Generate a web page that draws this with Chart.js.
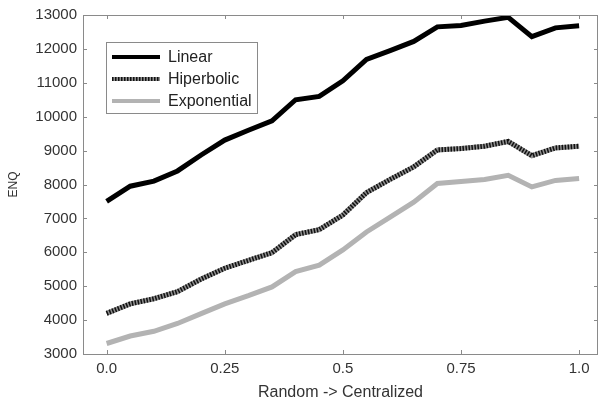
<!DOCTYPE html>
<html>
<head>
<meta charset="utf-8">
<script src="https://cdn.jsdelivr.net/npm/chart.js@4.4.0/dist/chart.umd.min.js"></script>
<style>
  html, body { margin: 0; padding: 0; background: #fff; }
</style>
</head>
<body>
<canvas id="enq" width="600" height="404"></canvas>
<script>
const xVals = [0, 0.05, 0.1, 0.15, 0.2, 0.25, 0.3, 0.35, 0.4, 0.45, 0.5,
               0.55, 0.6, 0.65, 0.7, 0.75, 0.8, 0.85, 0.9, 0.95, 1.0]
const linear = [7500, 7950, 8100, 8400, 8870, 9310, 9600, 9880, 10500, 10600, 11060,
                11690, 11950, 12220, 12650, 12690, 12820, 12930, 12360, 12620, 12680]
const hiperbolic = [4200, 4480, 4630, 4840, 5210, 5530, 5760, 5990, 6520, 6670, 7100,
                    7760, 8150, 8520, 9020, 9060, 9130, 9270, 8850, 9080, 9130]
const exponential = [3310, 3530, 3670, 3900, 4190, 4480, 4720, 4980, 5430, 5620, 6070,
                     6600, 7040, 7480, 8030, 8090, 8150, 8270, 7930, 8120, 8180]
const seriesNames = ['Linear', 'Hiperbolic', 'Exponential']
const xTicks = [0, 0.25, 0.5, 0.75, 1]
const xTickLabels = ['0.0', '0.25', '0.5', '0.75', '1.0']
const yTicks = [3000, 4000, 5000, 6000, 7000, 8000, 9000, 10000, 11000, 12000, 13000]

const FONT = 'Liberation Sans, Arial, sans-serif'
const AXIS = '#8a8a8a'

function pts(arr) {
  return xVals.map((x, i) => ({x: x, y: arr[i]}))
}

// box round the plot with inward ticks on every side
const frame = {
  id: 'frame',
  afterDraw(chart) {
    const ctx = chart.ctx
    const a = chart.chartArea
    const xs = chart.scales.x, ys = chart.scales.y
    ctx.save()
    ctx.strokeStyle = AXIS
    ctx.lineWidth = 1
    ctx.strokeRect(a.left + 0.5, a.top + 0.5, a.right - a.left - 1, a.bottom - a.top)
    ctx.beginPath()
    for (let v of yTicks) {
      let y = Math.round(ys.getPixelForValue(v)) + 0.5
      ctx.moveTo(a.left, y); ctx.lineTo(a.left + 4, y)
      ctx.moveTo(a.right - 4, y); ctx.lineTo(a.right, y)
    }
    for (let v of xTicks) {
      let x = Math.round(xs.getPixelForValue(v)) + 0.5
      ctx.moveTo(x, a.bottom); ctx.lineTo(x, a.bottom - 4)
      ctx.moveTo(x, a.top); ctx.lineTo(x, a.top + 4)
    }
    ctx.stroke()
    ctx.restore()
  }
}

// legend box inside the plot, top left
const boxLegend = {
  id: 'boxLegend',
  afterDraw(chart) {
    const ctx = chart.ctx
    const a = chart.chartArea
    const bx = a.left + 23, by = a.top + 27, bw = 151, bh = 71
    ctx.save()
    ctx.fillStyle = '#fff'
    ctx.fillRect(bx, by, bw, bh)
    ctx.strokeStyle = AXIS
    ctx.lineWidth = 1
    ctx.strokeRect(bx + 0.5, by + 0.5, bw, bh)
    ctx.font = '16px ' + FONT
    ctx.textBaseline = 'middle'
    for (let i = 0; i < seriesNames.length; i++) {
      let y = by + 15 + i * 22
      ctx.lineWidth = 4
      if (i == 1) {
        ctx.strokeStyle = '#8f8f8f'
        ctx.beginPath(); ctx.moveTo(bx + 6, y); ctx.lineTo(bx + 54, y); ctx.stroke()
        ctx.setLineDash([1.5, 1.5])
        ctx.strokeStyle = '#111'
      } else {
        ctx.strokeStyle = i == 0 ? '#000' : '#b3b3b3'
      }
      ctx.beginPath(); ctx.moveTo(bx + 6, y); ctx.lineTo(bx + 54, y); ctx.stroke()
      ctx.setLineDash([])
      ctx.fillStyle = '#222'
      ctx.fillText(seriesNames[i], bx + 62, y + 1)
    }
    ctx.restore()
  }
}

new Chart(document.getElementById('enq'), {
  type: 'line',
  data: {
    datasets: [
      {label: seriesNames[0], data: pts(linear), borderColor: '#000', borderWidth: 5, order: 1},
      {label: seriesNames[1], data: pts(hiperbolic), borderColor: '#111', borderWidth: 5,
       borderDash: [1.5, 1.5], order: 1},
      {label: seriesNames[1] + ' base', data: pts(hiperbolic), borderColor: '#8f8f8f', borderWidth: 5, order: 3},
      {label: seriesNames[2], data: pts(exponential), borderColor: '#b3b3b3', borderWidth: 5, order: 2}
    ]
  },
  options: {
    responsive: false,
    animation: false,
    layout: {padding: {top: 10, right: 2, left: 0, bottom: 0}},
    elements: {
      point: {radius: 0},
      line: {tension: 0, borderCapStyle: 'butt', borderJoinStyle: 'miter'}
    },
    plugins: {
      legend: {display: false},
      tooltip: {enabled: false}
    },
    scales: {
      x: {
        type: 'linear',
        min: -0.05,
        max: 1.04,
        afterBuildTicks: s => { s.ticks = xTicks.map(v => ({value: v})) },
        afterFit: s => { s.height = 50 },
        grid: {display: false, drawTicks: false},
        border: {display: false},
        ticks: {
          padding: 6,
          color: '#333',
          font: {family: FONT, size: 15},
          callback: v => xTickLabels[xTicks.indexOf(v)]
        },
        title: {
          display: true, text: 'Random -> Centralized', color: '#333',
          font: {family: FONT, size: 16}, padding: {top: 0, bottom: 2}
        }
      },
      y: {
        min: 3000,
        max: 13000,
        afterBuildTicks: s => { s.ticks = yTicks.map(v => ({value: v})) },
        afterFit: s => { s.width = 83 },
        grid: {display: false, drawTicks: false},
        border: {display: false},
        ticks: {
          padding: 6,
          color: '#333',
          font: {family: FONT, size: 15},
          callback: v => String(v)
        },
        title: {
          display: true, text: 'ENQ', color: '#333',
          font: {family: FONT, size: 12}, padding: {top: 6, bottom: 4}
        }
      }
    }
  },
  plugins: [frame, boxLegend]
})
</script>
</body>
</html>
